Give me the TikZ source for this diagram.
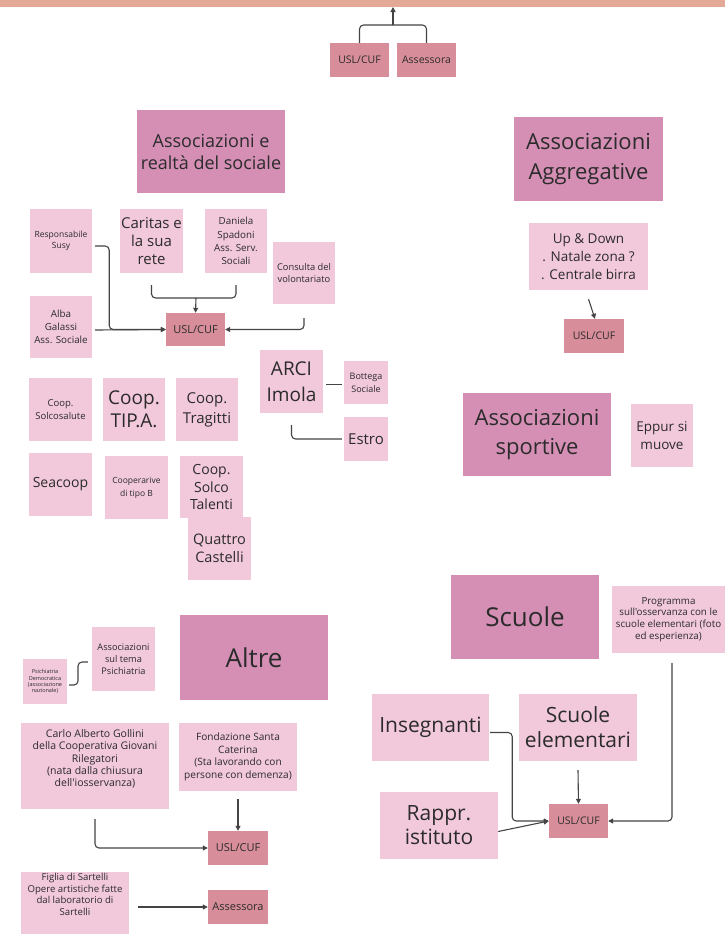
\documentclass[tikz,border=0pt]{standalone}
\usepackage{fontspec}
\newfontfamily\osans{Open Sans}
\usetikzlibrary{arrows.meta}
\definecolor{hdr}{HTML}{D58FB5}
\definecolor{lite}{HTML}{F2C8DB}
\definecolor{dark}{HTML}{D88E9A}
\definecolor{band}{HTML}{E4A896}
\definecolor{txt}{HTML}{2B2B2B}
\definecolor{lin}{HTML}{444444}
\newcommand{\fs}[2]{\osans\fontsize{#1}{#2}\selectfont}
\tikzset{
  box/.style={rectangle, inner sep=0pt, align=center, text=txt},
  hbox/.style={box, fill=hdr},
  lbox/.style={box, fill=lite},
  dbox/.style={box, fill=dark},
  sz/.style n args={2}{minimum width=#1pt, minimum height=#2pt},
  conn/.style={draw=lin, line width=1.1pt, rounded corners=4pt},
  arr/.style={-{Triangle[length=5pt,width=5pt]}}
}
\begin{document}
\begin{tikzpicture}[x=1pt,y=-1pt]
\useasboundingbox (0,0) rectangle (725,935);
\fill[white] (0,0) rectangle (725,935);
\fill[band] (0,0) rectangle (725,7);

% top
\node[dbox, sz={59}{34}, font=\fs{10.5}{12}] (tusl) at (359.5,60) {USL/CUF};
\node[dbox, sz={59}{34}, font=\fs{10.5}{12}] (tass) at (426.5,60) {Assessora};
\coordinate (tj) at (393,25);
\coordinate (ttop) at (393,7);
\draw[conn] (tusl.north) |- (tj);
\draw[conn] (tass.north) |- (tj);
\draw[conn,arr] (tj) -- (ttop);

% Associazioni e realta del sociale
\node[hbox, sz={148}{83}, font=\fs{18}{22}] (hsoc) at (211,151.5) {Associazioni e\\realtà del sociale};
\node[lbox, sz={62}{64}, font=\fs{8.5}{11.5}] (susy) at (61,241) {Responsabile\\Susy};
\node[lbox, sz={63}{64}, font=\fs{15}{18}] (caritas) at (151.5,241) {Caritas e\\la sua\\rete};
\node[lbox, sz={62}{64}, font=\fs{9.8}{13.3}] (daniela) at (236,241) {Daniela\\Spadoni\\Ass. Serv.\\Sociali};
\node[lbox, sz={62}{62}, font=\fs{9.3}{12.7}] (consulta) at (304,273) {Consulta del\\volontariato};
\node[lbox, sz={62}{62}, font=\fs{9.8}{13.3}] (alba) at (61,327) {Alba\\Galassi\\Ass. Sociale};
\node[dbox, sz={59}{33}, font=\fs{11}{13}] (usl1) at (195.5,329.5) {USL/CUF};
\coordinate (cj) at (196,298);
\draw[conn,arr] ([shift={(3,5)}]susy.east) -- ++(14,0) |- (usl1.west);
\draw[conn,arr] ([shift={(3,3)}]alba.east) -- (usl1.west);
\draw[conn] ([yshift=-12pt]caritas.south) |- (cj);
\draw[conn] ([yshift=-12pt]daniela.south) |- (cj);
\draw[conn,arr] (cj) -- (usl1.north);
\draw[conn,arr] ([yshift=-14pt]consulta.south) |- (usl1.east);

% cooperative
\node[lbox, sz={63}{63}, font=\fs{9.5}{13}] (solcos) at (60.5,409.5) {Coop.\\Solcosalute};
\node[lbox, sz={62}{63}, font=\fs{19}{23}] (tipa) at (134,409.5) {Coop.\\TIP.A.};
\node[lbox, sz={62}{63}, font=\fs{15}{20}] (tragitti) at (207,409.5) {Coop.\\Tragitti};
\node[lbox, sz={63}{63}, font=\fs{14}{17}] (seacoop) at (60.5,484.5) {Seacoop};
\node[lbox, sz={63}{63}, font=\fs{8.5}{13}] (tipob) at (136.5,487.5) {Cooperarive\\di tipo B};
\node[lbox, sz={63}{62}, font=\fs{14}{17.5}] (solcotal) at (211.5,487) {Coop.\\Solco\\Talenti};
\node[lbox, sz={63}{63}, font=\fs{14.5}{18}] (quattro) at (219.5,548.5) {Quattro\\Castelli};

% ARCI
\node[lbox, sz={63}{63}, font=\fs{19}{26}] (arci) at (291.5,381.5) {ARCI\\Imola};
\node[lbox, sz={44}{43}, font=\fs{9}{13}] (bottega) at (366,382.5) {Bottega\\Sociale};
\node[lbox, sz={44}{44}, font=\fs{15}{18}] (estro) at (366,439) {Estro};
\draw[conn] ([shift={(3,3)}]arci.east) -- ([shift={(-2,2)}]bottega.west);
\draw[conn] ([yshift=-12pt]arci.south) |- ([xshift=-2pt]estro.west);

% Aggregative
\node[hbox, sz={149}{84}, font=\fs{22}{30}] (hagg) at (588.5,159) {Associazioni\\Aggregative};
\node[lbox, sz={119}{67}, font=\fs{13.5}{18}] (updown) at (588.5,256.5) {Up \& Down\\. Natale zona ?\\. Centrale birra};
\node[dbox, sz={60}{34}, font=\fs{10.5}{12}] (usl2) at (594,336) {USL/CUF};
\draw[conn,arr] ([yshift=-9pt]updown.south) -- ([xshift=1pt]usl2.north);

% Sportive
\node[hbox, sz={148}{83}, font=\fs{22}{29}] (hsport) at (537,434.5) {Associazioni\\sportive};
\node[lbox, sz={62}{63}, font=\fs{13.5}{18}] (eppur) at (662,435.5) {Eppur si\\muove};

% Altre
\node[hbox, sz={148}{85}, font=\fs{26}{30}] (hal) at (254,657.5) {Altre};
\node[lbox, sz={44}{45}, font=\fs{5.5}{6.2}] (psich) at (45,681.5) {Psichiatria\\Democratica\\(associazione\\nazionale)};
\node[lbox, sz={63}{64}, font=\fs{9.2}{11.7}] (asstema) at (123.5,659) {Associazioni\\sul tema\\Psichiatria};
\draw[conn] ([shift={(2,3.5)}]psich.east) -| (78,671) |- ([shift={(-4,3)}]asstema.west);
\node[lbox, sz={148}{86}, font=\fs{10.5}{12.3}] (carlo) at (95,766) {Carlo Alberto Gollini\\della Cooperativa Giovani\\Rilegatori\\(nata dalla chiusura\\dell'iosservanza)\\[3.7pt]\mbox{}};
\node[lbox, sz={118}{68}, font=\fs{10.1}{12.7}] (fond) at (238,757) {Fondazione Santa\\Caterina\\(Sta lavorando con\\persone con demenza)};
\node[dbox, sz={60}{34}, font=\fs{11}{13}] (usl3) at (238,848) {USL/CUF};
\draw[conn,arr] ([yshift=-8pt]fond.south) -- (usl3.north);
\draw[conn,arr] ([yshift=-10pt]carlo.south) |- (usl3.west);
\node[lbox, sz={108}{62}, font=\fs{9.6}{11.5}] (figlia) at (75,903) {Figlia di Sartelli\\Opere artistiche fatte\\dal laboratorio di\\Sartelli\\[6pt]\mbox{}};
\node[dbox, sz={60}{34}, font=\fs{11}{13}] (ass2) at (238,907) {Assessora};
\draw[conn,arr] ([shift={(9,4)}]figlia.east) -- (ass2.west);

% Scuole
\node[hbox, sz={148}{84}, font=\fs{26}{30}] (hscu) at (525,617) {Scuole};
\node[lbox, sz={113}{67}, font=\fs{9.8}{11.7}] (prog) at (668.5,619.5) {Programma\\sull'osservanza con le\\scuole elementari (foto\\ed esperienza)};
\node[lbox, sz={117}{67}, font=\fs{21}{25}] (insegn) at (430.5,727.5) {Insegnanti};
\node[lbox, sz={118}{67}, font=\fs{21}{25}] (scelem) at (578,727.5) {Scuole\\elementari};
\node[lbox, sz={118}{67}, font=\fs{21}{24}] (rappr) at (439,825.5) {Rappr.\\istituto};
\node[dbox, sz={59}{34}, font=\fs{10.5}{12}] (usl4) at (578.5,821) {USL/CUF};
\draw[conn,arr] ([shift={(1,5)}]insegn.east) -- ++(22,0) |- (usl4.west);
\draw[conn,arr] ([shift={(0,6)}]rappr.east) -- (usl4.west);
\draw[conn,arr] ([yshift=-9pt]scelem.south) -- (usl4.north);
\draw[conn,arr] ([shift={(3.5,10)}]prog.south) |- (usl4.east);
\end{tikzpicture}
\end{document}
